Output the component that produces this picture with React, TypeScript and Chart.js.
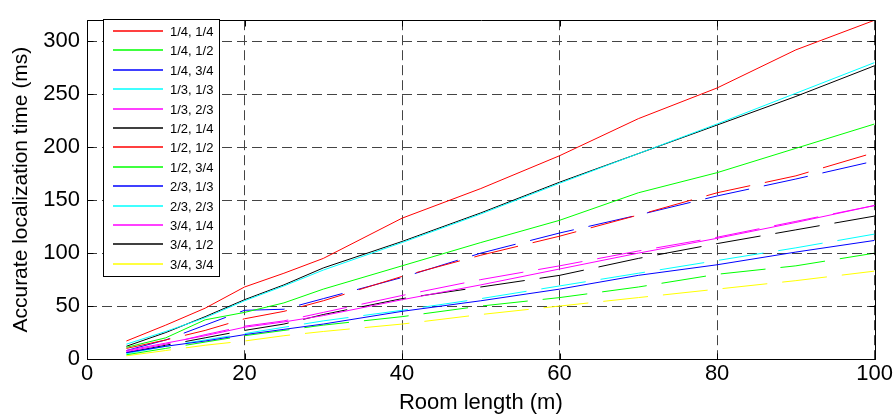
import React, { useEffect, useRef } from "react";
import { Chart, registerables } from "chart.js";

Chart.register(...registerables);

const roomLength = [5, 10, 15, 20, 25, 30, 40, 50, 60, 70, 80, 90, 100];

const s14_14 = [17, 32, 48, 68, 81, 95, 133, 161, 192, 227, 256, 292, 320];
const s14_12 = [11, 20, 37, 44, 53, 66, 88, 110, 131, 157, 176, 199, 222];
const s14_34 = [6, 12, 17, 23, 28, 33, 45, 55, 66, 79, 89, 101, 112];
const s13_13 = [14, 26, 39, 55, 69, 84, 110, 137, 166, 194, 222, 251, 280];
const s13_23 = [8, 15, 22, 30, 35, 41, 56, 70, 85, 100, 114, 129, 145];
const s12_14 = [12, 25, 40, 56, 70, 86, 111, 138, 167, 194, 221, 248, 277];
const s12_12 = [10, 18, 27, 38, 45, 55, 78, 98, 116, 136, 157, 173, 195];
const s12_34 = [4, 10, 16, 22, 27, 32, 40, 50, 58, 68, 80, 88, 100];
const s23_13 = [8, 18, 32, 46, 47, 57, 77, 100, 119, 136, 154, 170, 187];
const s23_23 = [5, 12, 18, 24, 30, 36, 46, 57, 69, 81, 93, 105, 118];
const s34_14 = [7, 14, 23, 31, 36, 44, 60, 75, 88, 102, 115, 130, 145];
const s34_12 = [6, 13, 20, 27, 33, 42, 57, 68, 79, 95, 109, 122, 135];
const s34_34 = [3, 8, 13, 17, 22, 26, 33, 42, 50, 58, 66, 74, 83];

const seriesLabels = [
  "1/4, 1/4", "1/4, 1/2", "1/4, 3/4", "1/3, 1/3", "1/3, 2/3", "1/2, 1/4",
  "1/2, 1/2", "1/2, 3/4", "2/3, 1/3", "2/3, 2/3", "3/4, 1/4", "3/4, 1/2", "3/4, 3/4",
];
const seriesValues = [
  s14_14, s14_12, s14_34, s13_13, s13_23, s12_14,
  s12_12, s12_34, s23_13, s23_23, s34_14, s34_12, s34_34,
];
const seriesColors = [
  "#ff0000", "#00ff00", "#0000ff", "#00ffff", "#ff00ff", "#000000",
  "#ff0000", "#00ff00", "#0000ff", "#00ffff", "#ff00ff", "#000000", "#ffff00",
];
const seriesDashed = [
  false, false, false, false, false, false,
  true, true, true, true, true, true, true,
];

const xTickValues = [0, 20, 40, 60, 80, 100];
const yTickValues = [0, 50, 100, 150, 200, 250, 300];

const FONT = "'Liberation Sans', Arial, sans-serif";

const framePlugin = {
  id: "frame",
  afterDatasetsDraw(chart: any) {
    const { ctx, chartArea } = chart;
    const { left, right, top, bottom } = chartArea;
    const xs = chart.scales.x;
    const ys = chart.scales.y;
    ctx.save();
    ctx.strokeStyle = "#000";
    ctx.lineWidth = 1;
    ctx.setLineDash([]);
    ctx.beginPath();
    const L = Math.round(left) + 0.5;
    const R = Math.round(right) + 0.5;
    const T = Math.round(top) + 0.5;
    const B = Math.round(bottom) + 0.5;
    ctx.rect(L, T, R - L, B - T);
    const tl = 6;
    xTickValues.forEach((v) => {
      const px = Math.round(xs.getPixelForValue(v)) + 0.5;
      ctx.moveTo(px, B);
      ctx.lineTo(px, B - tl);
      ctx.moveTo(px, T);
      ctx.lineTo(px, T + tl);
    });
    yTickValues.forEach((v) => {
      const py = Math.round(ys.getPixelForValue(v)) + 0.5;
      ctx.moveTo(L, py);
      ctx.lineTo(L + tl, py);
      ctx.moveTo(R, py);
      ctx.lineTo(R - tl, py);
    });
    ctx.stroke();
    ctx.restore();
  },
  afterDraw(chart: any) {
    const { ctx } = chart;
    const datasets = chart.data.datasets;
    const bx = 103.5, by = 19.5, bw = 116, bh = 257;
    ctx.save();
    ctx.fillStyle = "#fff";
    ctx.fillRect(bx, by, bw, bh);
    ctx.strokeStyle = "#000";
    ctx.lineWidth = 1;
    ctx.setLineDash([]);
    ctx.strokeRect(bx, by, bw, bh);
    ctx.font = `13px ${FONT}`;
    ctx.textBaseline = "middle";
    ctx.textAlign = "left";
    const y0 = 31;
    const step = 19.4;
    datasets.forEach((ds: any, i: number) => {
      const y = Math.round(y0 + i * step);
      ctx.setLineDash([]);
      ctx.lineWidth = 1.5;
      ctx.strokeStyle = seriesColors[i];
      ctx.beginPath();
      ctx.moveTo(113, y);
      ctx.lineTo(163, y);
      ctx.stroke();
      ctx.fillStyle = "#000";
      ctx.fillText(ds.label, 170, y + 1);
    });
    ctx.restore();
  },
};

export default function App() {
  const canvasRef = useRef<HTMLCanvasElement | null>(null);

  useEffect(() => {
    if (!canvasRef.current) return;
    const datasets = seriesLabels.map((label, i) => ({
      label,
      data: roomLength.map((x, j) => ({ x, y: seriesValues[i][j] })),
      borderColor: seriesColors[i],
      backgroundColor: seriesColors[i],
      borderWidth: 1,
      borderDash: seriesDashed[i] ? [45, 15] : [],
      pointRadius: 0,
      tension: 0,
      fill: false,
    }));
    const chart = new Chart(canvasRef.current, {
      type: "line",
      data: { datasets },
      plugins: [framePlugin],
      options: {
        animation: false,
        responsive: false,
        maintainAspectRatio: false,
        layout: { padding: { left: 0, right: 20, top: 8, bottom: 0 } },
        plugins: {
          legend: { display: false },
          tooltip: { enabled: false },
        },
        scales: {
          x: {
            type: "linear",
            min: 0,
            max: 100,
            afterBuildTicks: (scale: any) => {
              scale.ticks = xTickValues.map((v) => ({ value: v }));
            },
            afterFit: (scale: any) => {
              scale.height = 57;
            },
            ticks: {
              color: "#000",
              font: { family: FONT, size: 22 },
              padding: 2,
              maxRotation: 0,
              autoSkip: false,
            },
            grid: {
              color: "#444",
              lineWidth: 1,
              drawTicks: false,
            },
            border: { display: false, dash: [10, 5] },
            title: {
              display: true,
              text: "Room length (m)",
              color: "#000",
              font: { family: FONT, size: 22 },
              padding: { top: 0, bottom: 0 },
            },
          },
          y: {
            type: "linear",
            min: 0,
            max: 320,
            afterBuildTicks: (scale: any) => {
              scale.ticks = yTickValues.map((v) => ({ value: v }));
            },
            afterFit: (scale: any) => {
              scale.width = 87;
            },
            ticks: {
              color: "#000",
              font: { family: FONT, size: 22 },
              padding: 7,
              autoSkip: false,
            },
            grid: {
              color: "#444",
              lineWidth: 1,
              drawTicks: false,
            },
            border: { display: false, dash: [10, 5] },
            title: {
              display: true,
              text: "Accurate localization time (ms)",
              color: "#000",
              font: { family: FONT, size: 21 },
              padding: { top: 9, bottom: 0 },
            },
          },
        },
      },
    });
    return () => chart.destroy();
  }, []);

  return (
    <div style={{ position: "fixed", left: 0, top: 0, width: 895, height: 416, background: "#fff" }}>
      <canvas ref={canvasRef} width={895} height={416} style={{ width: 895, height: 416, display: "block" }} />
    </div>
  );
}
